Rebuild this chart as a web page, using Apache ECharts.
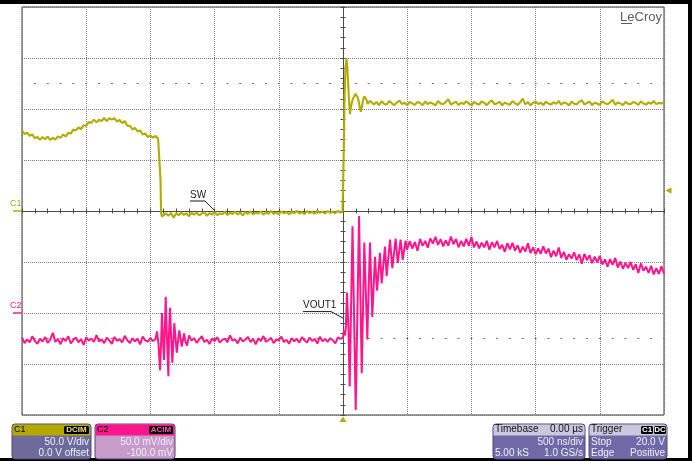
<!DOCTYPE html>
<html>
<head>
<meta charset="utf-8">
<script src="https://cdn.jsdelivr.net/npm/echarts@6/dist/echarts.min.js"></script>
<style>
  html, body { margin: 0; padding: 0; background: #fff; }
  #scope { width: 692px; height: 461px; }
</style>
</head>
<body>
<div id="scope"></div>
<script>
// ---- acquisition settings ----
const timePerDivNs = 500;
const c1VoltsPerDiv = 50;
const c1OffsetV = 0;
const c2MilliVoltsPerDiv = 50;
const c2OffsetMv = -100;
const triggerLevelV = 20;
const sampleStepNs = 20;
const recordLengthText = '5.00 kS';
const sampleRateText = '1.0 GS/s';

// ---- C1 (SW node), volts ----
const swHumpStartNs = -2500;
const swHump = [79, 75.5, 76.7, 73.7, 75.1, 71.3, 72.5, 69.7, 72.5, 70.4, 72.9, 69.8, 71.6, 69.9, 73.1, 71.6, 75, 73, 76.6, 75.9,
  79.9, 79, 82, 80.1, 84.2, 83.3, 87.3, 86.3, 89.6, 86.9, 89.5, 88.1, 91.2, 88.1, 91, 89.6, 91.1, 87.7, 89.2, 86.1,
  88.1, 83.7, 83.5, 79.9, 81.4, 78, 79, 75, 75.9, 72.4, 74.1, 71.9, 73.6, 70.8];
const swFall = [[-1432, 72.5], [-1426, 70], [-1421, 30], [-1417, -2], [-1410, -5.5]];
const swLowStartNs = -1400;
const swLow = [-5.2, -2.1, -4.6, -1.8, -6.5, -2.4, -4.1, -1.5, -3.9, -2.2,
  -5.1, -1.9, -3.6, -1.4, -4.3, -2.6, -1.2, -4.8, -2, -3.5,
  -0.9, -4, -2.3, -3.2, -0.8, -3.9, -1.6, -2.9, -0.6, -3.4,
  -1.5, -4.4, -1.1, -2.7, -0.5, -3.3, -1.8, -2.5, -0.4, -3.6,
  -1.2, -2.8, 0.1, -2.9, -1.4, -3.1, -0.3, -2.4, -1, -3.3,
  -0.7, -2.2, 0.2, -2.6, -1.1, -3, -0.2, -2.1, -0.9, -2.8,
  0.3, -1.9, -0.6, -2.5, -0.1, -1.7, -0.8, -2.3, 0.2, -1.5];
const swRise = [[-4, -1], [0, 20], [6, 60], [12, 110], [19, 140], [27, 150], [34, 140], [40, 125], [47, 108], [54, 95],
  [61, 101], [68, 106], [77, 110], [86, 112], [97, 115], [107, 116.5], [116, 111], [125, 105.7], [132, 100], [140, 97.4],
  [149, 104], [158, 109.8], [166, 112.5], [173, 113.7], [183, 109], [192, 104.9], [201, 106.5], [210, 108]];
const swHighStartNs = 220;
const swHigh = [107.2, 104.5, 106.9, 103.8, 107.5, 105.1, 104.2, 107.8, 105.6, 103.9, 106.4, 108.1, 104.7, 106.2, 103.6, 107.1, 105.3, 104.1, 106.8, 105.9,
  103.7, 107.4, 104.8, 106.5, 105.2, 103.5, 107.9, 105.4, 104.6, 106.7, 109.6, 104.3, 105.8, 107.2, 103.9, 106.1, 104.9, 107.6, 105.5, 103.4,
  106.9, 105.2, 104.4, 107.3, 106, 103.8, 106.6, 108.4, 104.5, 105.7, 107, 103.6, 106.3, 105.1, 104.2, 107.7, 105.8, 104, 106.5, 110.2,
  104.6, 106.8, 103.7, 105.9, 107.4, 104.8, 106.2, 103.9, 107.1, 105.4, 104.3, 106.7, 105, 108, 104.1, 106.4, 105.6, 103.5, 107.3, 105.2,
  104.7, 106.9, 108.6, 104.4, 105.9, 107.2, 103.8, 106.1, 105.3, 104, 107.5, 105.7, 104.5, 106.6, 109.1, 104.2, 106.3, 105.5, 103.7, 107,
  105.1, 104.6, 106.8, 105.9, 103.9, 107.6, 105.4, 104.3, 106.5, 105.2, 107.9, 104.8, 106, 105.3, 106.7];

// ---- C2 (VOUT1, AC coupled), millivolts ----
const voutPreStartNs = -2500;
const voutPre = [-24, -29.5, -25.8, -28.7, -22.9, -27.4, -30.1, -25.2, -27.9, -23.6, -29.2, -26.1, -19.5, -28.3, -25.4, -30.6, -24.7, -27.6, -22.8, -29.9,
  -26.3, -24.1, -28.8, -25.5, -31.2, -23.9, -27.1, -25, -28.4, -21.7, -27.8, -25.9, -29.6, -24.3, -26.8, -30.3, -23.5, -27.3, -25.6, -28.9,
  -22.4, -26.6, -29.4, -24.8, -27.7, -25.3, -30.8, -23.2, -26.9, -28.1, -24.5, -27.5, -25.7];
const voutBurst = [[-1449, -18], [-1437, -30], [-1425, -56], [-1417, -30], [-1410, 0], [-1402, -25], [-1394, -46], [-1386, -10],
  [-1381, 16], [-1371, -25], [-1360, -62], [-1355, -20], [-1347, 5], [-1338, -25], [-1329, -49], [-1322, -30], [-1314, -10],
  [-1304, -25], [-1295, -39], [-1285, -28], [-1275, -17], [-1265, -25], [-1256, -33], [-1246, -26], [-1238, -20], [-1227, -28],
  [-1215, -32], [-1199, -22]];
const voutMidStartNs = -1180;
const voutMid = [-27.1, -24.6, -29.3, -25.8, -22.7, -28.5, -26.2, -30.4, -24.9, -27.6, -23.8, -29.1, -26.4, -25.1, -28.7, -21.9, -27.2, -25.7, -29.8, -24.2,
  -27.9, -26, -23.4, -28.6, -25.3, -30.7, -24.8, -27.4, -22.6, -28.2, -26.5, -24.4, -29.5, -25.9, -27, -23.1, -28.4, -26.3, -30.2, -24.6,
  -27.7, -25.2, -29, -23.7, -26.8, -28.9, -24.1, -27.3, -25.6, -30, -23.3, -27.8, -25.4, -28.3, -24.7, -26.6, -29.7, -23.9, -25.5];
const voutRing = [[0, -24], [8, -17], [16, -22], [23, -12], [31, 20], [43, -17], [52, -72], [74, 85], [99, -95], [125, 95],
  [146, -59], [166, 69], [189, -26], [210, 69], [228, -4], [249, 55], [265, 22], [288, 59], [301, 29], [327, 65],
  [340, 36], [366, 72], [384, 44], [410, 73], [426, 49], [449, 72], [465, 52], [487, 71], [498, 62]];
const voutTailStartNs = 520;
const voutTail = [70.5, 63.1, 69.7, 61.1, 72.6, 65.8, 70.7, 64, 73.2, 68.1,
  74.6, 66.7, 72.4, 65.4, 71.2, 66, 75, 67.4, 72.5, 64.4,
  70.7, 65.3, 72.7, 65.8, 74.6, 64.3, 70.1, 63.4, 68.9, 64.4,
  70.7, 62, 69.4, 64.4, 70.6, 62.8, 66.8, 60, 68.4, 62.4,
  68.7, 61.1, 66.4, 59.2, 65.1, 60.2, 68.4, 58.8, 64.4, 57.8,
  63.2, 57.9, 65.4, 58.3, 63.1, 54.8, 61.1, 55.6, 64.3, 54,
  59.8, 52.3, 57.6, 53.4, 59.5, 51.9, 57.5, 48.2, 58, 51.8,
  56.6, 48.8, 55.3, 49.7, 55.9, 47.6, 52.5, 45.5, 52.9, 47.2,
  54, 44.6, 50.3, 43.4, 49.1, 44, 50, 42.3, 47.8, 39.3,
  48.6, 41.4, 45.4, 39.3, 46.2, 37.8, 43.9, 38.2, 45.7, 38.5];

// ---- styling / layout ----
const GRID = { left: 22, top: 7, width: 642, height: 408 };
const C1_COLOR = '#b3ac00';
const C2_COLOR = '#ff168c';
const AXIS_COLOR = '#4a4a4a';
const GRID_COLOR = '#7a7a7a';
const FONT = '"Liberation Sans", Arial, sans-serif';

// uniformly sampled record segment -> [time, value] pairs
function record(startNs, values) {
  return values.map((v, i) => [startNs + i * sampleStepNs, v]);
}

const c1Data = [].concat(record(swHumpStartNs, swHump), swFall, record(swLowStartNs, swLow), swRise, record(swHighStartNs, swHigh));
const c2Data = [].concat(record(voutPreStartNs, voutPre), voutBurst, record(voutMidStartNs, voutMid), voutRing, record(voutTailStartNs, voutTail));

const c1Center = -c1OffsetV, c2Center = -c2OffsetMv;

function mkX(position, withGrid) {
  return {
    type: 'value', position, min: -5 * timePerDivNs, max: 5 * timePerDivNs, interval: timePerDivNs,
    axisLine: { show: true, onZero: true, onZeroAxisIndex: 0, lineStyle: { color: AXIS_COLOR, width: 1 } },
    axisTick: { show: true, inside: false, length: 2.5, lineStyle: { color: AXIS_COLOR, width: 1 } },
    minorTick: { show: true, splitNumber: 5, length: 2.5, lineStyle: { color: AXIS_COLOR, width: 1 } },
    axisLabel: { show: false },
    splitLine: { show: withGrid, lineStyle: { color: GRID_COLOR, width: 1, type: [1, 1] } },
    minorSplitLine: { show: false }
  };
}
function mkY(position, center, perDiv, withGrid) {
  return {
    type: 'value', position, min: center - 4 * perDiv, max: center + 4 * perDiv, interval: perDiv,
    axisLine: { show: true, onZero: true, onZeroAxisIndex: 0, lineStyle: { color: AXIS_COLOR, width: 1 } },
    axisTick: { show: true, inside: false, length: 2.5, lineStyle: { color: AXIS_COLOR, width: 1 } },
    minorTick: { show: true, splitNumber: 5, length: 2.5, lineStyle: { color: AXIS_COLOR, width: 1 } },
    axisLabel: { show: false },
    splitLine: { show: withGrid, lineStyle: { color: GRID_COLOR, width: 1, type: [1, 1] } },
    minorSplitLine: { show: false }
  };
}

const minorPx = GRID.width / 50;

const option = {
  animation: false,
  backgroundColor: '#ffffff',
  grid: {
    left: GRID.left, top: GRID.top, width: GRID.width, height: GRID.height,
    show: true, borderColor: '#3a3a3a', borderWidth: 1, backgroundColor: 'rgba(0,0,0,0)',
    outerBoundsMode: 'none', containLabel: false
  },
  xAxis: [mkX('bottom', true), mkX('top', false)],
  yAxis: [mkY('left', c1Center, c1VoltsPerDiv, true), mkY('right', c2Center, c2MilliVoltsPerDiv, false)],
  series: [
    {
      type: 'line', name: 'C1', xAxisIndex: 0, yAxisIndex: 0, data: c1Data,
      symbol: 'none', showSymbol: false, silent: true, z: 3,
      lineStyle: { color: C1_COLOR, width: 2.1, join: 'bevel' }, itemStyle: { color: C1_COLOR },
      emphasis: { disabled: true },
      markLine: {
        silent: true, symbol: 'none', animation: false, label: { show: false },
        emphasis: { disabled: true },
        lineStyle: { color: '#6a6a6a', width: 1, type: [2, minorPx - 2], dashOffset: 1 },
        data: [{ yAxis: c1Center + 2.5 * c1VoltsPerDiv }, { yAxis: c1Center - 2.5 * c1VoltsPerDiv }]
      }
    },
    {
      type: 'line', name: 'C2', xAxisIndex: 0, yAxisIndex: 1, data: c2Data,
      symbol: 'none', showSymbol: false, silent: true, z: 4,
      lineStyle: { color: C2_COLOR, width: 2, join: 'bevel' }, itemStyle: { color: C2_COLOR },
      emphasis: { disabled: true }
    }
  ]
};

const chart = echarts.init(document.getElementById('scope'), null, { renderer: 'canvas' });
chart.setOption(option);

const toPx = (seriesIndex, t, v) => chart.convertToPixel({ seriesIndex }, [t, v]);
const gRight = GRID.left + GRID.width, gBottom = GRID.top + GRID.height;
const fnt = (size, weight) => (weight || 'normal') + ' ' + size + 'px ' + FONT;
function txt(x, y, text, fill, size, align, weight) {
  return { type: 'text', x, y, silent: true, z: 20,
    style: { text, fill, font: fnt(size, weight), align: align || 'left', textAlign: align || 'left', verticalAlign: 'middle', textVerticalAlign: 'middle' } };
}
function line(x1, y1, x2, y2, stroke, w) {
  return { type: 'line', silent: true, z: 20, shape: { x1, y1, x2, y2 }, style: { stroke, lineWidth: w || 1 } };
}
function rect(x, y, w, h, fill, r, stroke) {
  return { type: 'rect', silent: true, z: 19, shape: { x, y, width: w, height: h, r: r || 0 }, style: { fill, stroke: stroke || null, lineWidth: stroke ? 1 : 0 } };
}

const g = [];

// screen frame
g.push(rect(0, 0, 692, 4, '#000'));
g.push(rect(688, 0, 4, 461, '#000'));
g.push(rect(0, 458, 692, 3, '#000'));

// brand
g.push(txt(gRight - 2, 17, 'LeCroy', '#5c5c5c', 13, 'right'));
g.push(line(gRight - 43, 23.5, gRight - 32, 23.5, '#5c5c5c', 1));

// channel ground markers
const c1Zero = toPx(0, 0, 0)[1];
const c2Zero = toPx(1, 0, 0)[1];
g.push(line(GRID.left - 9, c1Zero, GRID.left, c1Zero, C1_COLOR, 1.5));
g.push(txt(GRID.left - 12, c1Zero - 7, 'C1', C1_COLOR, 9));
g.push(line(GRID.left - 9, c2Zero, GRID.left, c2Zero, C2_COLOR, 1.5));
g.push(txt(GRID.left - 12, c2Zero - 7, 'C2', C2_COLOR, 9));

// trigger level (right) and trigger position (bottom)
const trigY = toPx(0, 0, triggerLevelV)[1];
g.push({ type: 'polygon', silent: true, z: 20, shape: { points: [[gRight + 1.5, trigY], [gRight + 7.5, trigY - 3.2], [gRight + 7.5, trigY + 3.2]] }, style: { fill: C1_COLOR } });
const trigX = toPx(0, 0, 0)[0];
g.push({ type: 'polygon', silent: true, z: 20, shape: { points: [[trigX, gBottom + 1.5], [trigX - 3.5, gBottom + 7], [trigX + 3.5, gBottom + 7]] }, style: { fill: C1_COLOR } });

// trace labels
const swAnchor = toPx(0, -997, 0);
g.push(txt(swAnchor[0] - 25, swAnchor[1] - 16, 'SW', '#1a1a1a', 10));
g.push(line(swAnchor[0] - 25, swAnchor[1] - 10, swAnchor[0] - 10, swAnchor[1] - 10, '#1a1a1a', 1));
g.push(line(swAnchor[0] - 10, swAnchor[1] - 10, swAnchor[0], swAnchor[1], '#1a1a1a', 1));
const voAnchor = toPx(1, 0, -5);
g.push(txt(voAnchor[0] - 40, voAnchor[1] - 12.5, 'VOUT1', '#1a1a1a', 10));
g.push(line(voAnchor[0] - 40, voAnchor[1] - 6.5, voAnchor[0] - 12, voAnchor[1] - 6.5, '#1a1a1a', 1));
g.push(line(voAnchor[0] - 12, voAnchor[1] - 6.5, voAnchor[0], voAnchor[1], '#1a1a1a', 1));

// info boxes
const BOX_Y = 424, BOX_H = 35, HEAD_H = 11, L2 = 442.5, L3 = 453.5, HEAD_MID = 429.6;
function box(x, w, headFill, bodyFill) {
  g.push(rect(x, BOX_Y, w, BOX_H, bodyFill, 3, '#4d4878'));
  g.push(rect(x + 0.5, BOX_Y + 0.5, w - 1, HEAD_H, headFill, [3, 3, 0, 0]));
}
function badge(x, w, text, textFill) {
  g.push(rect(x, BOX_Y + 2, w, 8, '#000', 1.5));
  g.push(txt(x + w / 2, BOX_Y + 6.2, text, textFill, 8, 'center', 'bold'));
}
const bodyText = '#eeeef6';

// C1
box(12, 79, '#b3aa00', '#6f6a9c');
g.push(txt(14, HEAD_MID, 'C1', '#000', 9));
badge(64, 25, 'DCIM', '#e8e27a');
g.push(txt(89, L2, c1VoltsPerDiv.toFixed(1) + ' V/div', bodyText, 10, 'right'));
g.push(txt(89, L3, c1OffsetV.toFixed(1) + ' V offset', bodyText, 10, 'right'));

// C2
box(95, 80, '#ff168c', '#c79bca');
g.push(txt(97, HEAD_MID, 'C2', '#000', 9));
badge(149, 24, 'ACIM', '#ff5aae');
g.push(txt(173, L2, c2MilliVoltsPerDiv.toFixed(1) + ' mV/div', bodyText, 10, 'right'));
g.push(txt(173, L3, c2OffsetMv.toFixed(1) + ' mV', bodyText, 10, 'right'));

// Timebase
box(493, 92, '#cbc7df', '#7069a8');
g.push(txt(495, HEAD_MID, 'Timebase', '#111', 10));
g.push(txt(583, HEAD_MID, '0.00 µs', '#111', 10, 'right'));
g.push(txt(583, L2, timePerDivNs + ' ns/div', bodyText, 10, 'right'));
g.push(txt(495, L3, recordLengthText, bodyText, 10));
g.push(txt(583, L3, sampleRateText, bodyText, 10, 'right'));

// Trigger
box(589, 78, '#cbc7df', '#7069a8');
g.push(txt(591, HEAD_MID, 'Trigger', '#111', 10));
badge(641, 12, 'C1', '#fff');
badge(654, 12, 'DC', '#fff');
g.push(txt(591, L2, 'Stop', bodyText, 10));
g.push(txt(665, L2, triggerLevelV.toFixed(1) + ' V', bodyText, 10, 'right'));
g.push(txt(591, L3, 'Edge', bodyText, 10));
g.push(txt(665, L3, 'Positive', bodyText, 10, 'right'));

chart.setOption({ graphic: { elements: g } });
</script>
</body>
</html>
